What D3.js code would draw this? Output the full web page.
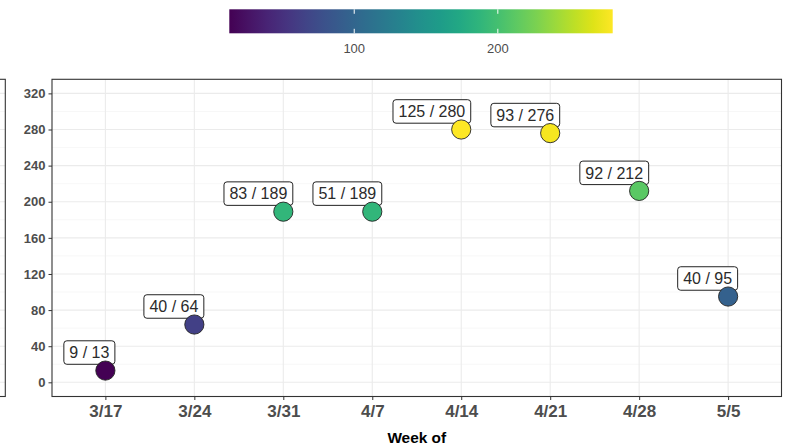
<!DOCTYPE html>
<html><head><meta charset="utf-8">
<script src="https://cdn.jsdelivr.net/npm/d3@7"></script>
<style>body{margin:0;background:#fff}svg{display:block}</style>
</head><body>
<svg id="c" width="788" height="444"></svg>
<script>
const weeks = ["3/17","3/24","3/31","4/7","4/14","4/21","4/28","5/5"];
const firstVals = [9,40,83,51,125,93,92,40];
const totals = [13,64,189,189,280,276,212,95];
const yTicks = [0,40,80,120,160,200,240,280,320];
const yMinor = [20,60,100,140,180,220,260,300];
const cbTicks = [100,200];

const W=788,H=444;
const P={l:52,r:781.5,t:79.3,b:396.5};
const svg=d3.select("#c");
const font="Liberation Sans, Arial, Helvetica, sans-serif";

const x=d3.scalePoint().domain(weeks).range([P.l,P.r]).padding(0.6);
const y=d3.scaleLinear().domain([-15.7,335.6]).range([P.b,P.t]);
const col=d3.scaleSequential(d3.interpolateViridis).domain([d3.min(totals),d3.max(totals)]);

// cropped neighbouring panel on the left
const lp=svg.append("g");
lp.append("rect").attr("x",-60).attr("y",P.t).attr("width",65.3).attr("height",P.b-P.t).attr("fill","#fff");
yMinor.forEach(v=>lp.append("line").attr("x1",-60).attr("x2",5.3).attr("y1",y(v)).attr("y2",y(v)).attr("stroke","#F2F2F2").attr("stroke-width",0.6));
yTicks.forEach(v=>lp.append("line").attr("x1",-60).attr("x2",5.3).attr("y1",y(v)).attr("y2",y(v)).attr("stroke","#EBEBEB").attr("stroke-width",1.1));
lp.append("rect").attr("x",-60).attr("y",P.t).attr("width",65.3).attr("height",P.b-P.t).attr("fill","none").attr("stroke","#333").attr("stroke-width",1.1);

// main panel grid
const g=svg.append("g");
g.selectAll(".ymin").data(yMinor).join("line").attr("x1",P.l).attr("x2",P.r).attr("y1",d=>y(d)).attr("y2",d=>y(d)).attr("stroke","#F2F2F2").attr("stroke-width",0.6);
g.selectAll(".ymaj").data(yTicks).join("line").attr("x1",P.l).attr("x2",P.r).attr("y1",d=>y(d)).attr("y2",d=>y(d)).attr("stroke","#EBEBEB").attr("stroke-width",1.1);
g.selectAll(".xmaj").data(weeks).join("line").attr("x1",d=>x(d)).attr("x2",d=>x(d)).attr("y1",P.t).attr("y2",P.b).attr("stroke","#EBEBEB").attr("stroke-width",1.1);

// axes
const ya=svg.append("g").attr("transform",`translate(${P.l},0)`).call(d3.axisLeft(y).tickValues(yTicks).tickSize(3.5).tickPadding(3));
ya.select(".domain").remove();
ya.selectAll("line").attr("stroke","#333");
ya.selectAll("text").attr("font-family",font).attr("font-size",13).attr("font-weight","bold").attr("fill","#4D4D4D");
const xa=svg.append("g").attr("transform",`translate(0,${P.b})`).call(d3.axisBottom(x).tickSize(3.5).tickPadding(5));
xa.select(".domain").remove();
xa.selectAll("line").attr("stroke","#333");
xa.selectAll("text").attr("font-family",font).attr("font-size",17).attr("font-weight","bold").attr("fill","#4D4D4D");

svg.append("rect").attr("x",P.l).attr("y",P.t).attr("width",P.r-P.l).attr("height",P.b-P.t).attr("fill","none").attr("stroke","#333").attr("stroke-width",1.1);

svg.append("text").attr("x",(P.l+P.r)/2).attr("y",442.5).attr("text-anchor","middle").attr("font-family",font).attr("font-size",15.4).attr("font-weight","bold").attr("fill","#000").text("Week of");

const data=weeks.map((w,i)=>({w,a:firstVals[i],t:totals[i]}));

// labels (drawn beneath the points)
const lg=svg.selectAll(".lab").data(data).join("g");
lg.each(function(d){
  const gg=d3.select(this);
  const t=gg.append("text").attr("font-family",font).attr("font-size",16).attr("fill","#2b2b2b").attr("text-anchor","middle").text(`${d.a} / ${d.t}`);
  const tw=t.node().getComputedTextLength();
  const pad=5.5, bw=tw+2*pad, bh=23.5;
  const right=x(d.w)+9.5, bottom=y(d.t)-6.3;
  gg.insert("rect","text").attr("x",right-bw).attr("y",bottom-bh).attr("width",bw).attr("height",bh).attr("rx",3).attr("fill","#fff").attr("stroke","#222").attr("stroke-width",1);
  t.attr("x",right-bw/2).attr("y",bottom-bh/2+5.8);
});

// points
svg.selectAll(".pt").data(data).join("circle").attr("cx",d=>x(d.w)).attr("cy",d=>y(d.t)).attr("r",9.6).attr("fill",d=>col(d.t)).attr("stroke","#222").attr("stroke-width",0.9);

// colorbar
const cb={x0:229.3,x1:612.7,y0:9.3,y1:33.3};
const cx=d3.scaleLinear().domain(col.domain()).range([cb.x0,cb.x1]);
const grad=svg.append("defs").append("linearGradient").attr("id","vg");
d3.range(0,1.0001,0.05).forEach(s=>grad.append("stop").attr("offset",s).attr("stop-color",d3.interpolateViridis(s)));
svg.append("rect").attr("x",cb.x0).attr("y",cb.y0).attr("width",cb.x1-cb.x0).attr("height",cb.y1-cb.y0).attr("fill","url(#vg)");
cbTicks.forEach(v=>{
  svg.append("line").attr("x1",cx(v)).attr("x2",cx(v)).attr("y1",cb.y0).attr("y2",cb.y0+4.5).attr("stroke","#fff").attr("stroke-width",1);
  svg.append("line").attr("x1",cx(v)).attr("x2",cx(v)).attr("y1",cb.y1-4.5).attr("y2",cb.y1).attr("stroke","#fff").attr("stroke-width",1);
  svg.append("text").attr("x",cx(v)).attr("y",53).attr("text-anchor","middle").attr("font-family",font).attr("font-size",13).attr("fill","#4D4D4D").text(v);
});
</script>
</body></html>
